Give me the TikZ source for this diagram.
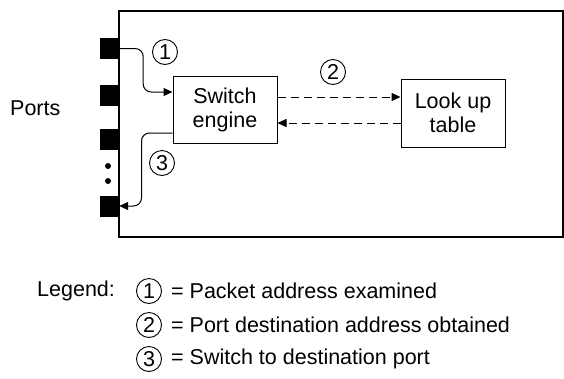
\documentclass[tikz,border=0pt]{standalone}
\usepackage{fontspec}
\setmainfont{Liberation Sans}
\usepackage{xcolor}
\definecolor{ink}{HTML}{000000}
\usetikzlibrary{positioning,arrows.meta}
\newcommand{\txt}{\fontsize{21.5}{24}\selectfont}
\tikzset{
  >={Triangle[length=9pt,width=8pt]},
  box/.style={draw=ink,line width=1pt,align=center,inner sep=0pt,minimum width=104pt,
    minimum height=67pt,font=\txt},
  port/.style={fill=ink,inner sep=0pt,minimum width=19pt,minimum height=21pt},
  num/.style={circle,draw=ink,line width=0.9pt,inner sep=0pt,minimum size=25pt,font=\txt},
  flow/.style={->,draw=ink,line width=1pt,rounded corners=8pt},
  dflow/.style={->,draw=ink,line width=1pt,dash pattern=on 8pt off 5pt},
  lbl/.style={font=\txt,inner sep=0pt,anchor=west},
}
\begin{document}
\begin{tikzpicture}[x=1pt,y=-1pt]
  \useasboundingbox (0,0) rectangle (564,378);
  % switch frame
  \draw[ink,line width=1.1pt] (119,11) rectangle (563,237);
  % ports
  \foreach \n/\y in {1/48.5,2/95,3/139,4/206}{\node[port] (p\n) at (109.5,\y) {};}
  \foreach \y in {166,181}{\fill[ink] (108,\y) circle (3);}
  \node[lbl] (ports) at (10,108) {Ports};
  % blocks
  \node[box] (sw) at (225,109.5) {Switch\\engine};
  \node[box,minimum height=68pt] (lut) at (453,113) {Look up\\table};
  % connectors
  \coordinate (swin) at ([yshift=17.5pt]sw.west);
  \coordinate (swout) at ([yshift=-23.5pt]sw.west);
  \coordinate (qa) at ([yshift=12.5pt]sw.east);
  \coordinate (qb) at ([yshift=-13.5pt]sw.east);
  \draw[flow] (p1.east) -- ++(24,0) |- (swin);
  \draw[flow] (swout) -- ++(-31,0) |- (p4.east);
  \draw[dflow] (qa) -- (qa -| lut.west);
  \draw[dflow] (qb -| lut.west) -- (qb);
  \node[num] (n1) at (165,52) {1};
  \node[num] (n2) at (333,72) {2};
  \node[num] (n3) at (162,163) {3};
  % legend
  \node[lbl] (leg) at (37,291) {Legend:};
  \node[num] (l1) at (149,291) {1};
  \node[num] (l2) at (149,325) {2};
  \node[num] (l3) at (149,359) {3};
  \node[lbl,right=9pt of l1] (t1) {= Packet address examined};
  \node[lbl,right=9pt of l2] (t2) {= Port destination address obtained};
  \node[lbl,right=9pt of l3] (t3) {= Switch to destination port};
\end{tikzpicture}
\end{document}
